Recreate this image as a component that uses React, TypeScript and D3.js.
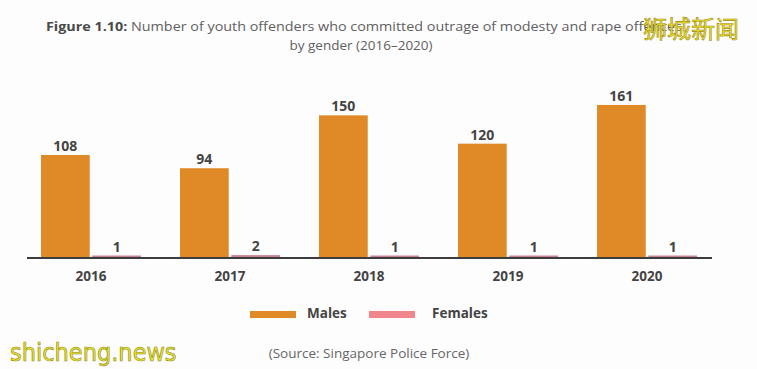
import React from "react";
import * as d3 from "d3";

const years = ["2016", "2017", "2018", "2019", "2020"];
const males = [108, 94, 150, 120, 161];
const females = [1, 2, 1, 1, 1];
const seriesNames = ["Males", "Females"];
const seriesColors = ["#e08a27", "#f0868c"];
const femaleBarColor = "#c98390";

const W = 757;
const H = 369;

export default function App() {
  const baseline = 258;
  const x = d3
    .scaleBand<string>()
    .domain(years)
    .range([21.5, 716.5])
    .paddingInner(39 / 139)
    .paddingOuter(39 / 278);
  const xs = d3.scaleBand<string>().domain(seriesNames).range([0, x.bandwidth()]).paddingInner(0.05);
  const y = d3.scaleLinear().domain([0, 180]).range([baseline, baseline - 170]);

  const data = years.map((yr, i) => ({ yr, vals: [males[i], females[i]] }));
  const font = "'Open Sans', 'Noto Sans', sans-serif";

  return (
    <div style={{ position: "fixed", left: 0, top: 0, width: W, height: H, background: "#fff" }}>
      <svg width={W} height={H} style={{ display: "block" }}>
        <rect width={W} height={H} fill="#fefdfe" />
        <text x={364} y={31} textAnchor="middle" fontFamily={font} fontSize={13} fill="#606060" textLength={636} lengthAdjust="spacingAndGlyphs">
          <tspan fontWeight="bold" fill="#4a4a4a">Figure 1.10:</tspan>
          <tspan> Number of youth offenders who committed outrage of modesty and rape offences</tspan>
        </text>
        <text x={361} y={50} textAnchor="middle" fontFamily={font} fontSize={13.5} fill="#606060">
          by gender (2016–2020)
        </text>

        {data.map((d) => (
          <g key={d.yr} transform={`translate(${x(d.yr)},0)`}>
            {d.vals.map((v, j) => {
              const name = seriesNames[j];
              const h = Math.max(baseline - y(v), 1.5);
              return (
                <g key={name}>
                  <rect
                    x={xs(name)}
                    y={baseline - h - 1}
                    width={xs.bandwidth()}
                    height={h + 1}
                    fill={j === 0 ? seriesColors[0] : femaleBarColor}
                  />
                  <text
                    x={(xs(name) as number) + xs.bandwidth() / 2}
                    y={baseline - h - 5}
                    textAnchor="middle"
                    fontFamily={font}
                    fontWeight="bold"
                    fontSize={14}
                    fill="#444"
                  >
                    {v}
                  </text>
                </g>
              );
            })}
            <text
              x={x.bandwidth() / 2}
              y={281}
              textAnchor="middle"
              fontFamily={font}
              fontWeight="bold"
              fontSize={13.5}
              fill="#444"
            >
              {d.yr}
            </text>
          </g>
        ))}
        <line x1={27} x2={712} y1={baseline} y2={baseline} stroke="#3d3d40" strokeWidth={2} />

        {seriesNames.map((n, i) => (
          <g key={n} transform={`translate(${250 + i * 119},0)`}>
            <rect x={0} y={311} width={46} height={7} fill={seriesColors[i]} />
            <text x={i === 0 ? 57 : 63} y={318} fontFamily={font} fontWeight="bold" fontSize={13.5} fill="#444">
              {n}
            </text>
          </g>
        ))}

        <text x={369} y={358} textAnchor="middle" fontFamily={font} fontSize={13.5} fill="#666">
          (Source: Singapore Police Force)
        </text>

        <text x={643} y={38} fontFamily="'Noto Sans CJK SC', sans-serif" fontSize={24} fill="#f2e41c" stroke="#9a8a20" strokeWidth={0.6}>
          狮城新闻
        </text>
        <text x={10} y={361} fontFamily="'DejaVu Sans Condensed', 'Liberation Sans Narrow', sans-serif" fontSize={25} fill="#eee21c" stroke="#8a8a30" strokeWidth={0.6}>
          shicheng.news
        </text>
      </svg>
    </div>
  );
}
